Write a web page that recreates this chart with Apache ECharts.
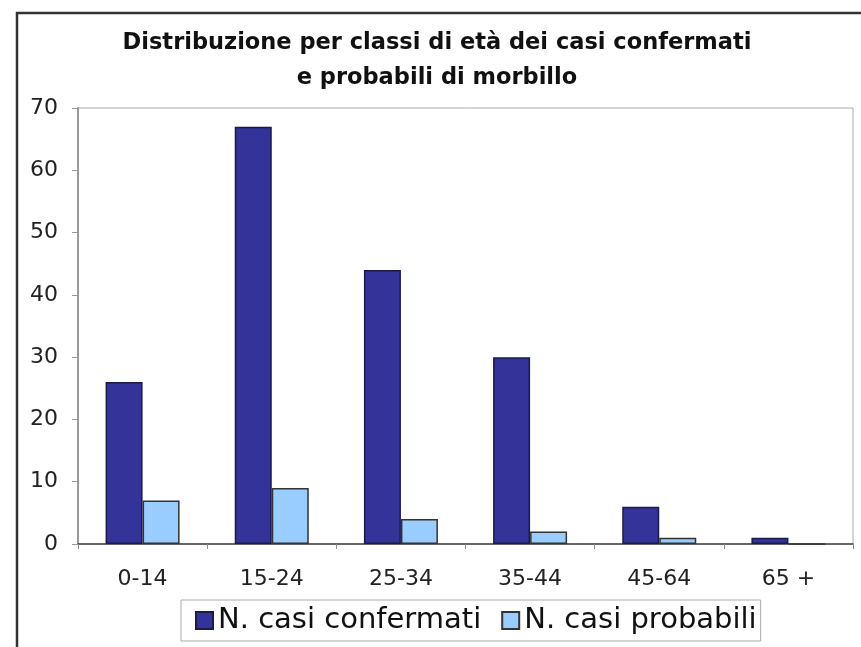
<!DOCTYPE html>
<html>
<head>
<meta charset="utf-8">
<script src="https://cdn.jsdelivr.net/npm/echarts@6/dist/echarts.min.js"></script>
<style>
  html, body { margin: 0; padding: 0; background: #fff; }
  #main { width: 861px; height: 647px; }
</style>
</head>
<body>
<div id="main"></div>
<script>
// dati
var classi = ['0-14', '15-24', '25-34', '35-44', '45-64', '65 +'];
var confermati = [26, 67, 44, 30, 6, 1];
var probabili = [7, 9, 4, 2, 1, 0];
var yTicks = [0, 10, 20, 30, 40, 50, 60, 70];

var myChart = echarts.init(document.getElementById('main'));
myChart.setOption({
  animation: false,
  graphic: [
    {
      type: 'rect',
      shape: { x: 17, y: 13, width: 900, height: 700 },
      style: { fill: 'none', stroke: '#333', lineWidth: 2.5 },
      silent: true
    }
  ],
  title: {
    text: 'Distribuzione per classi di età dei casi confermati\ne probabili di morbillo',
    left: 432,
    textAlign: 'center',
    top: 21,
    textStyle: {
      fontFamily: 'DejaVu Sans',
      fontSize: 22.5,
      fontWeight: 'bold',
      color: '#111',
      lineHeight: 35
    }
  },
  grid: {
    left: 78,
    right: 8,
    top: 108,
    bottom: 103,
    show: true,
    borderColor: '#aaa',
    borderWidth: 1,
    backgroundColor: '#fff'
  },
  legend: {
    data: ['N. casi confermati', 'N. casi probabili'],
    left: 181,
    top: 600,
    itemWidth: 17,
    itemHeight: 17,
    itemGap: 20,
    padding: [6, 4, 6, 14],
    borderColor: '#aaa',
    borderWidth: 1,
    icon: 'rect',
    textStyle: {
      fontFamily: 'DejaVu Sans',
      fontSize: 29,
      color: '#111'
    }
  },
  xAxis: {
    type: 'category',
    data: classi,
    axisLine: { lineStyle: { color: '#444', width: 1.5 } },
    axisTick: { show: true, length: 5, alignWithLabel: false, lineStyle: { color: '#888' } },
    axisLabel: {
      fontFamily: 'DejaVu Sans',
      fontSize: 22,
      color: '#222',
      margin: 24
    }
  },
  yAxis: {
    type: 'value',
    min: 0,
    max: 70,
    interval: 10,
    axisLine: { show: true, lineStyle: { color: '#999', width: 2 } },
    axisTick: { show: true, length: 6, lineStyle: { color: '#999' } },
    splitLine: { show: false },
    axisLabel: {
      fontFamily: 'DejaVu Sans',
      fontSize: 22,
      color: '#222',
      margin: 20,
      formatter: function (v) { return yTicks.indexOf(v) >= 0 ? String(v) : ''; }
    }
  },
  series: [
    {
      name: 'N. casi confermati',
      type: 'bar',
      data: confermati,
      barWidth: 37,
      barGap: '0%',
      itemStyle: { color: '#333399', borderColor: '#1a1a4d', borderWidth: 1.5 }
    },
    {
      name: 'N. casi probabili',
      type: 'bar',
      data: probabili,
      barWidth: 37,
      itemStyle: { color: '#99ccff', borderColor: '#333', borderWidth: 1.5 }
    }
  ]
});
</script>
</body>
</html>
